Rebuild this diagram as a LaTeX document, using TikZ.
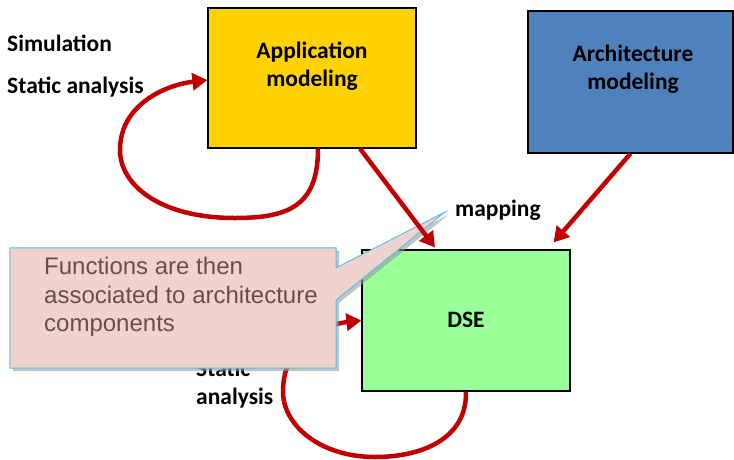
\documentclass[tikz,border=0pt]{standalone}
\usepackage{fontspec}
\setmainfont{Carlito}
\newfontfamily\calloutfont{Liberation Sans}
\usetikzlibrary{arrows.meta,shadows}

\definecolor{appyellow}{HTML}{FFD200}
\definecolor{archblue}{HTML}{4F81BD}
\definecolor{dsegreen}{HTML}{99FF99}
\definecolor{flowred}{HTML}{C00000}
\definecolor{calloutpink}{HTML}{F0D3CF}
\definecolor{calloutblue}{HTML}{5DBFEA}
\definecolor{callouttext}{HTML}{6B4E47}

\begin{document}
\begin{tikzpicture}[x=1pt,y=-1pt]
    % Define styles for shapes
    \tikzstyle{modelbox} = [draw=black, line width=1.2pt, inner sep=0pt]
    \tikzstyle{boxtext} = [align=center, inner sep=0pt, font=\fontsize{23.5}{28}\selectfont\bfseries]
    \tikzstyle{sidelabel} = [inner sep=0pt, font=\fontsize{23.5}{28}\selectfont\bfseries]
    \tikzstyle{flow} = [draw=flowred, line width=4.5pt, -{Triangle[length=15pt,width=17pt]}]
    \tikzstyle{calloutshape} = [fill=calloutpink, draw=calloutblue, line width=1pt,
        drop shadow={shadow xshift=3pt, shadow yshift=-3pt, fill=black!40, opacity=0.6}]

    \useasboundingbox (0,0) rectangle (734,459);

    % Draw the three boxes
    \node[modelbox, fill=appyellow, minimum width=208pt, minimum height=140pt] (app) at (312,78) {};
    \node[modelbox, fill=archblue, minimum width=205pt, minimum height=142pt] (arch) at (630.5,82) {};
    \node[modelbox, fill=dsegreen, minimum width=208pt, minimum height=141pt] (dse) at (466,320.5) {};

    \node[boxtext] (apptext) at (312,66) {Application\\modeling};
    \node[boxtext] (archtext) at (633,69) {Architecture\\modeling};
    \node[boxtext] (dsetext) at (466,320) {DSE};

    % Draw the labels
    \node[sidelabel, anchor=base west] (simlabel) at (7,51) {Simulation};
    \node[sidelabel, anchor=base west] (statlabel) at (7,93) {Static analysis};
    \node[sidelabel, anchor=base west] (maplabel) at (455,216) {mapping};
    \node[sidelabel, anchor=south west, align=left] (dsestatlabel) at (196,408) {Static\\analysis};

    % Draw the loop on the application box
    \draw[flow] ([xshift=6pt]app.south) .. controls (318,205) and (290,218) .. (235,218)
        .. controls (160,218) and (120,185) .. (120,150)
        .. controls (120,105) and (165,85) .. ([yshift=-2pt]app.west);

    % Draw the loop on the DSE box
    \draw[flow] (dse.south) .. controls (467,440) and (420,457) .. (375,457)
        .. controls (320,457) and (282,425) .. (283,390)
        .. controls (284,345) and (320,325) .. (dse.west);

    % Draw the architecture arrow
    \draw[flow] (arch.south) -- ([xshift=-17pt,yshift=7pt]dse.north east);

    % Draw the callout
    \coordinate (maptip) at (445,212);
    \node[minimum width=326pt, minimum height=120pt, inner sep=0pt] (callout) at (173,308) {};
    \draw[calloutshape] (callout.north west) -- (callout.north east)
        -- ([yshift=-20pt]callout.north east) -- (maptip)
        -- ([yshift=-52pt]callout.north east) -- (callout.south east)
        -- (callout.south west) -- cycle;
    \node[anchor=north west, align=left, inner sep=0pt, text=callouttext,
        font=\calloutfont\fontsize{24}{28.5}\selectfont] (callouttext) at (44,257)
        {Functions are then\\associated to architecture\\components};

    % Draw the mapping arrow
    \draw[flow] ([xshift=48pt]app.south) -- ([xshift=-31pt,yshift=2pt]dse.north);

\end{tikzpicture}
\end{document}
